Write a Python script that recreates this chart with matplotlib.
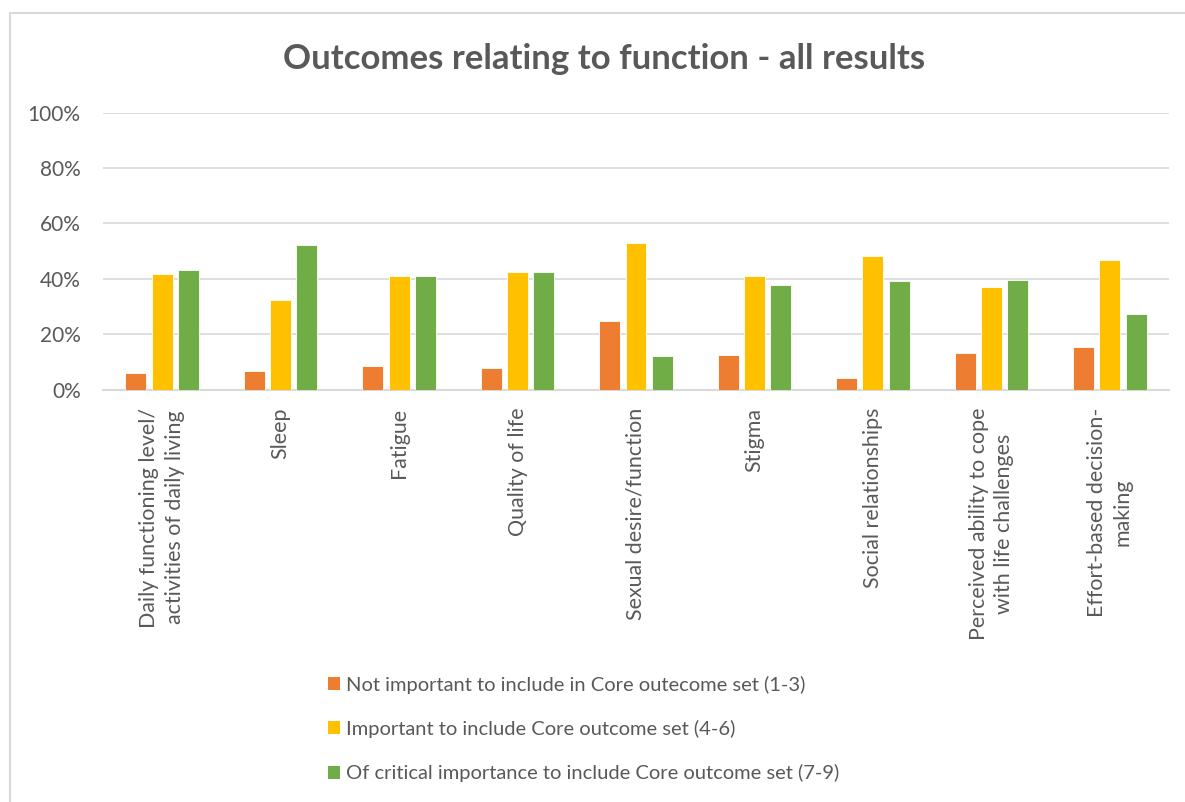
import numpy as np
import matplotlib
matplotlib.use('Agg')
import matplotlib.pyplot as plt
from matplotlib.patches import Rectangle, Patch

plt.rcParams.update({
    'font.family': ['Lato', 'DejaVu Sans'],
    'axes.linewidth': 1,
})

categories = ['Daily functioning level/\nactivities of daily living', 'Sleep', 'Fatigue',
              'Quality of life', 'Sexual desire/function', 'Stigma', 'Social relationships',
              'Perceived ability to cope\nwith life challenges', 'Effort-based decision-\nmaking']
not_important = [6.0, 6.6, 8.6, 7.9, 24.6, 12.5, 4.1, 13.2, 15.2]
important = [41.7, 32.5, 41.1, 42.3, 53.0, 41.1, 48.3, 37.0, 46.9]
critical = [43.0, 52.3, 41.1, 42.3, 12.0, 37.7, 39.0, 39.6, 27.1]
series_names = ['Not important to include in Core outecome set (1-3)',
                'Important to include Core outcome set (4-6)',
                'Of critical importance to include Core outcome set (7-9)']
colors = ['#ed7d31', '#ffc000', '#70ad47']

grey = '#595959'
fig = plt.figure(figsize=(11.85, 8.02), dpi=100)
ax = fig.add_axes([0.0869, 0.5143, 0.8996, 0.3454])

x = np.arange(len(categories))
w = 0.177
off = 0.222
for i, vals in enumerate([not_important, important, critical]):
    ax.bar(x + (i - 1) * off, np.array(vals) / 100, w, color=colors[i],
           edgecolor='white', linewidth=0.6, zorder=3)

ax.set_xlim(-0.5, len(categories) - 0.5)
ax.set_ylim(0, 1)
ax.set_yticks(np.arange(0, 1.01, 0.2))
ax.set_yticklabels([f'{int(v * 100)}%' for v in np.arange(0, 1.01, 0.2)])
ax.yaxis.grid(True, color='#d9d9d9', linewidth=1.2, zorder=0)
for s in ['top', 'right', 'left']:
    ax.spines[s].set_visible(False)
ax.spines['bottom'].set_color('#d9d9d9')
ax.spines['bottom'].set_linewidth(1.5)
ax.tick_params(axis='both', length=0, colors=grey, labelsize=15)
ax.tick_params(axis='y', pad=16)
ax.set_xticks(x)
ax.set_xticklabels(categories, rotation=90, ha='center', va='top',
                   multialignment='center', fontsize=15.4, linespacing=1.35)
ax.tick_params(axis='x', pad=13)

fig.text(0.51, 0.927, 'Outcomes relating to function - all results', ha='center', va='center',
         fontsize=25, fontweight='bold', color=grey)

handles = [Patch(facecolor=c, edgecolor='none') for c in colors]
fig.legend(handles, series_names, loc='upper left', bbox_to_anchor=(0.268, 0.17),
           frameon=False, fontsize=14.5, labelcolor=grey, handlelength=0.62, handleheight=0.62,
           handletextpad=0.3, labelspacing=1.3, borderpad=0)

fig.add_artist(Rectangle((10 / 1185, -0.1), 1.2, 1 - 13 / 802 + 0.1, transform=fig.transFigure,
                         fill=False, edgecolor='#d9d9d9', linewidth=1.5))

fig.savefig('out.png', dpi=100)
